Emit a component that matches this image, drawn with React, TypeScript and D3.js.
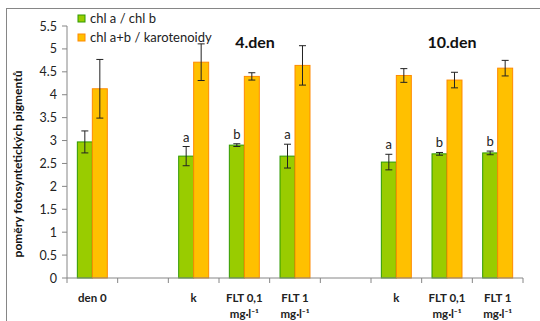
import React from "react";
import * as d3 from "d3";

// categories along the x axis (empty ones are spacer slots)
const categories = ["den 0", "", "k", "FLT 0,1", "FLT 1", " ", "k ", "FLT 0,1 ", "FLT 1 "];
const unitLine = [false, false, false, true, true, false, false, true, true];

// chl a / chl b
const ratioAB = [2.97, null, 2.66, 2.9, 2.66, null, 2.53, 2.71, 2.73];
const ratioABErr = [0.24, null, 0.21, 0.03, 0.26, null, 0.17, 0.03, 0.04];
// chl a+b / karotenoidy
const ratioCar = [4.13, null, 4.71, 4.4, 4.64, null, 4.42, 4.32, 4.58];
const ratioCarErr = [0.64, null, 0.4, 0.08, 0.43, null, 0.15, 0.17, 0.17];
// significance letters above chl a / chl b bars
const letters = ["", "", "a", "b", "a", "", "a", "b", "b"];

const yTicks = [0, 0.5, 1, 1.5, 2, 2.5, 3, 3.5, 4, 4.5, 5, 5.5];

const series = [
  { name: "chl a / chl b", values: ratioAB, errs: ratioABErr, fill: "#99CC00", stroke: "#2E9A00" },
  { name: "chl a+b / karotenoidy", values: ratioCar, errs: ratioCarErr, fill: "#FFC000", stroke: "#FF8A00" },
];

const font = "Lato, 'Open Sans', sans-serif";

export default function App() {
  const width = 540;
  const height = 321;
  const left = 67;
  const right = 523;
  const top = 26;
  const bottom = 278;

  const x = d3.scaleBand<string>().domain(categories).range([left, right]);
  const inner = d3
    .scaleBand<number>()
    .domain([0, 1])
    .range([0, x.bandwidth()])
    .paddingOuter(0.69);
  const y = d3.scaleLinear().domain([0, 5.5]).range([bottom, top]);

  const tickXs = categories.map((c) => x(c)!).concat([right]);

  return (
    <svg width={width} height={height} style={{ position: "absolute", left: 0, top: 0 }} fontFamily={font}>
      <rect x={6.5} y={8.5} width={600} height={400} fill="#fff" stroke="#868686" />

      {/* bars */}
      {series.map((s, si) => (
        <g key={s.name}>
          {s.values.map((v, i) =>
            v == null ? null : (
              <rect
                key={i}
                x={x(categories[i])! + inner(si)!}
                y={y(v)}
                width={inner.bandwidth()}
                height={y(0) - y(v)}
                fill={s.fill}
                stroke={s.stroke}
                strokeWidth={1}
              />
            )
          )}
        </g>
      ))}

      {/* error bars */}
      {series.map((s, si) =>
        s.values.map((v, i) => {
          if (v == null) return null;
          const cx = x(categories[i])! + inner(si)! + inner.bandwidth() / 2;
          const e = s.errs[i]!;
          const y1 = y(v + e);
          const y2 = y(v - e);
          return (
            <g key={`${si}-${i}`} stroke="#222" strokeWidth={1}>
              <line x1={cx} x2={cx} y1={y1} y2={y2} />
              <line x1={cx - 3.5} x2={cx + 3.5} y1={y1} y2={y1} />
              <line x1={cx - 3.5} x2={cx + 3.5} y1={y2} y2={y2} />
            </g>
          );
        })
      )}

      {/* letters */}
      {letters.map((l, i) => {
        if (!l) return null;
        const v = ratioAB[i]!;
        const e = ratioABErr[i]!;
        const cx = x(categories[i])! + inner(0)! + inner.bandwidth() / 2;
        return (
          <text key={i} x={cx} y={y(v + e) - 5} textAnchor="middle" fontSize={13} fill="#222">
            {l}
          </text>
        );
      })}

      {/* y axis */}
      <line x1={left} x2={left} y1={top} y2={bottom} stroke="#868686" />
      {yTicks.map((t) => (
        <g key={t}>
          <line x1={left - 5} x2={left} y1={y(t)} y2={y(t)} stroke="#868686" />
          <text x={left - 10} y={y(t) + 4.5} textAnchor="end" fontSize={12.5} fill="#222">
            {t}
          </text>
        </g>
      ))}

      {/* x axis */}
      <line x1={left} x2={right} y1={bottom} y2={bottom} stroke="#868686" />
      {tickXs.map((tx, i) => (
        <line key={i} x1={tx} x2={tx} y1={bottom} y2={bottom + 5} stroke="#868686" />
      ))}
      {categories.map((c, i) => {
        const cx = x(c)! + x.bandwidth() / 2;
        return (
          <g key={i} fontSize={11.5} fontWeight="bold" fill="#222" textAnchor="middle">
            <text x={cx} y={302}>{c.trim()}</text>
            {unitLine[i] && (
              <text x={cx} y={318}>mg·l⁻¹</text>
            )}
          </g>
        );
      })}

      {/* y title */}
      <text
        transform={`translate(22,164) rotate(-90)`}
        textAnchor="middle"
        fontSize={12}
        fontWeight="bold"
        fill="#111"
      >
        poměry fotosyntetických pigmentů
      </text>

      {/* group labels */}
      <text x={255} y={48} textAnchor="middle" fontSize={16} fontWeight="bold" fill="#111">
        4.den
      </text>
      <text x={452} y={48} textAnchor="middle" fontSize={16} fontWeight="bold" fill="#111">
        10.den
      </text>

      {/* legend */}
      {series.map((s, si) => (
        <g key={s.name} transform={`translate(78,${15 + si * 19})`}>
          <rect width={7} height={7} fill={s.fill} stroke={s.stroke} />
          <text x={12} y={8} fontSize={13} fill="#222">
            {s.name}
          </text>
        </g>
      ))}
    </svg>
  );
}
